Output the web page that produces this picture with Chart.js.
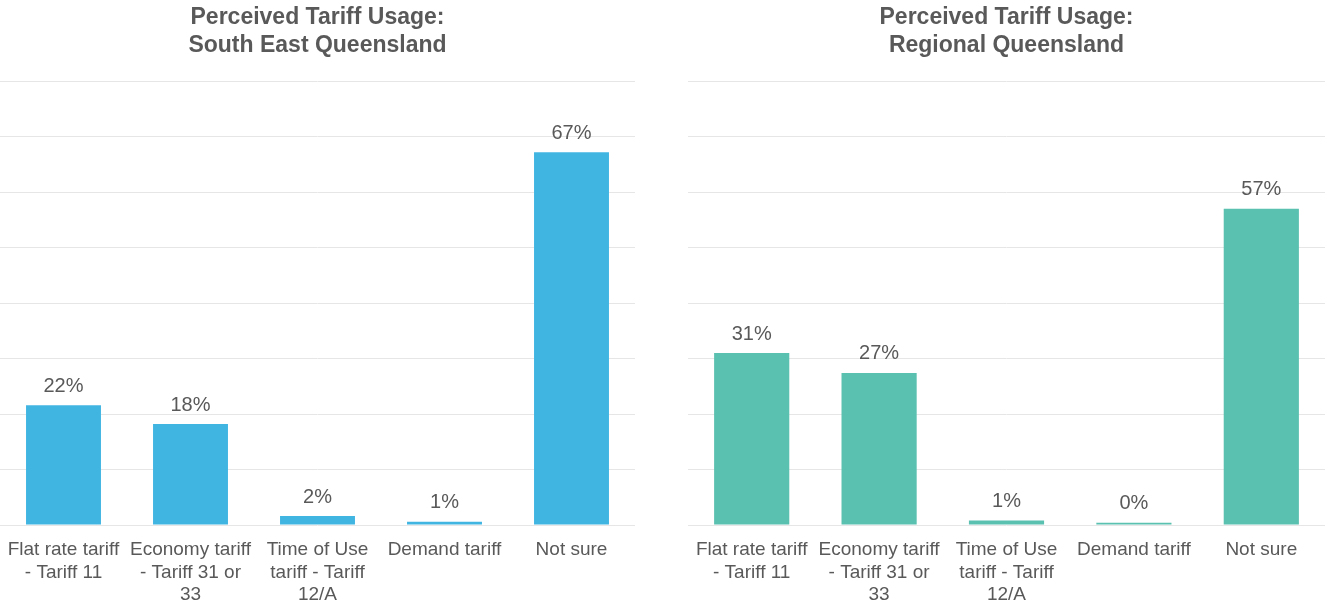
<!DOCTYPE html>
<html>
<head>
<meta charset="utf-8">
<script src="https://cdn.jsdelivr.net/npm/chart.js@4"></script>
<style>
  html, body { margin: 0; padding: 0; background: #fff; }
  .wrap { position: absolute; top: 0; height: 616px; }
  #seqWrap { left: 0; width: 635px; }
  #regWrap { left: 688px; width: 637px; }
</style>
</head>
<body>
<div class="wrap" id="seqWrap"><canvas id="seqChart"></canvas></div>
<div class="wrap" id="regWrap"><canvas id="regChart"></canvas></div>
<script>
// categories shared by both charts
const categories = [
    ['Flat rate tariff', '- Tariff 11'],
    ['Economy tariff', '- Tariff 31 or', '33'],
    ['Time of Use', 'tariff - Tariff', '12/A'],
    'Demand tariff',
    'Not sure'
];

// values (percent)
const seqValues = [21.6, 18.2, 1.6, 0.6, 67.2];
const regionalValues = [31, 27.4, 0.8, 0.4, 57];

const yTicks = [0, 10, 20, 30, 40, 50, 60, 70, 80];

const textGrey = '#595959';
const fontFamily = "'Liberation Sans', Arial, sans-serif";

// simple value labels above each bar
const barLabels = {
    id: 'barLabels',
    afterDatasetsDraw(chart) {
        const ctx = chart.ctx;
        ctx.save();
        ctx.font = '20px ' + fontFamily;
        ctx.fillStyle = textGrey;
        ctx.textAlign = 'center';
        ctx.textBaseline = 'middle';
        chart.getDatasetMeta(0).data.forEach((bar, i) => {
            const v = chart.data.datasets[0].data[i];
            ctx.fillText(Math.round(v) + '%', bar.x, bar.y - 19);
        });
        ctx.restore();
    }
};

function makeChart(id, title, values, colour) {
    const ctx = document.getElementById(id).getContext('2d');
    return new Chart(ctx, {
        type: 'bar',
        data: {
            labels: categories,
            datasets: [{
                data: values,
                backgroundColor: colour,
                borderWidth: 0,
                categoryPercentage: 1,
                barPercentage: 0.59
            }]
        },
        options: {
            responsive: true,
            maintainAspectRatio: false,
            animation: false,
            layout: { padding: 0 },
            plugins: {
                legend: { display: false },
                tooltip: { enabled: false },
                title: {
                    display: true,
                    text: title,
                    color: textGrey,
                    font: { family: fontFamily, size: 23, weight: 'bold', lineHeight: 1.22 },
                    padding: { top: 4, bottom: 21 }
                }
            },
            scales: {
                x: {
                    afterFit: axis => {
                        axis.height = 91;
                        axis.paddingLeft = 0;
                        axis.paddingRight = 0;
                    },
                    grid: { display: false, drawTicks: false },
                    border: { display: false },
                    ticks: {
                        color: textGrey,
                        padding: 14,
                        maxRotation: 0,
                        autoSkip: false,
                        font: { family: fontFamily, size: 19, lineHeight: 1.18 }
                    }
                },
                y: {
                    min: 0,
                    max: yTicks[yTicks.length - 1],
                    afterBuildTicks: axis => { axis.ticks = yTicks.map(v => ({ value: v })); },
                    afterFit: axis => { axis.width = 0; },
                    grid: { color: '#e6e6e6', lineWidth: 1, drawTicks: false },
                    border: { display: false },
                    ticks: { display: false }
                }
            }
        },
        plugins: [barLabels]
    });
}

makeChart('seqChart', ['Perceived Tariff Usage:', 'South East Queensland'], seqValues, '#40B5E2');
makeChart('regChart', ['Perceived Tariff Usage:', 'Regional Queensland'], regionalValues, '#5AC0AF');
</script>
</body>
</html>
